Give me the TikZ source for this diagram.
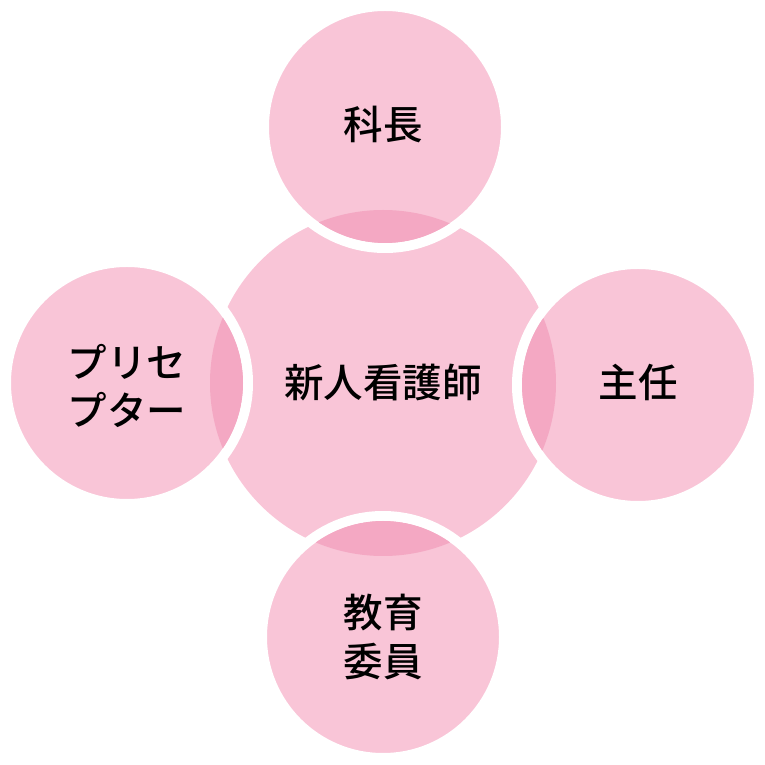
\documentclass[tikz,border=0pt]{standalone}
\usepackage{fontspec}
\setmainfont{Noto Sans CJK JP Medium}
\definecolor{lightpink}{HTML}{F9C5D7}
\definecolor{deeppink}{HTML}{F4A8C3}

\begin{document}
\begin{tikzpicture}[x=0.02cm, y=0.02cm,
  label/.style={align=center, font=\fontsize{22.5}{27.5}\selectfont}]
  \useasboundingbox (0,0) rectangle (765,765);
\fill[lightpink] (383,382) circle (173);
\foreach \cx/\cy in {385/638, 638/380, 383/128, 127/382} {
  \fill[lightpink, draw=white, line width=0.2cm] (\cx,\cy) circle (121);
  \begin{scope}
    \clip (383,382) circle (173);
    \fill[deeppink] (\cx,\cy) circle (116);
  \end{scope}
}
\node[label] (nurse) at (383,382) {新人看護師};
\node[label] (chief) at (383,640) {科長};
\node[label] (head) at (638,383) {主任};
\node[label] (educ) at (383,128) {教育\\委員};
\node[label] (prec) at (127,379) {プリセ\\プター};
    \end{tikzpicture}
\end{document}
